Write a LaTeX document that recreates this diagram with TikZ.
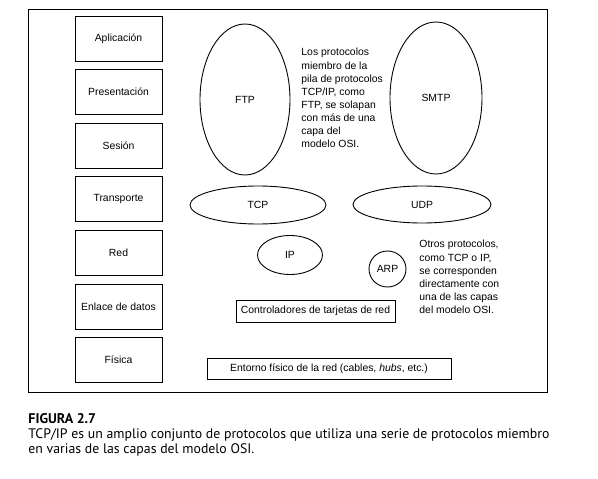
\documentclass[tikz,border=0pt]{standalone}
\usepackage{fontspec}
\setmainfont{Liberation Sans}
\newfontfamily\capfont{PT Sans}
\usetikzlibrary{shapes.geometric, positioning}

\begin{document}
\begin{tikzpicture}[x=1pt, y=-1pt, line width=0.9pt,
        layer/.style={draw, minimum width=87pt, minimum height=45pt, inner sep=0pt, font=\fontsize{10.4}{12}\selectfont},
        proto/.style={draw, ellipse, inner sep=0pt, font=\fontsize{10.4}{12}\selectfont},
        drv/.style={draw, inner sep=0pt, font=\fontsize{10.4}{12}\selectfont},
        note/.style={anchor=north west, align=left, inner sep=0pt, font=\fontsize{10.4}{13.1}\selectfont},
        figcap/.style={anchor=base west, inner sep=0pt, font=\capfont\fontsize{13.8}{15}\selectfont},
        node distance=7.7pt]
        \useasboundingbox (0,0) rectangle (598,479);
        \draw (28,9) rectangle (547,392);
        % capas del modelo OSI
        \node[layer] (apl) at (118.5,38.5) {Aplicación};
        \node[layer, below=of apl] (pres) {Presentación};
        \node[layer, below=of pres] (ses) {Sesión};
        \node[layer, below=of ses] (trans) {Transporte};
        \node[layer, below=of trans] (red) {Red};
        \node[layer, below=of red] (enl) {Enlace de datos};
        \node[layer, below=of enl] (fis) {Física};
        % protocolos
        \node[proto, minimum width=90pt, minimum height=151pt] (ftp) at (245,99.5) {FTP};
        \node[proto, minimum width=92pt, minimum height=152pt] (smtp) at (436,98) {SMTP};
        \node[proto, minimum width=136pt, minimum height=38pt] (tcp) at (258,205) {TCP};
        \node[proto, minimum width=138pt, minimum height=37pt] (udp) at (422,204.5) {UDP};
        \node[proto, minimum width=65pt, minimum height=39pt] (ip) at (290,255) {IP};
        \node[proto, minimum width=37pt, minimum height=36pt] (arp) at (387.5,269) {ARP};
        \node[drv, minimum width=159pt, minimum height=22pt] (ctrl) at (315.5,311) {Controladores de tarjetas de red};
        \node[drv, minimum width=244pt, minimum height=21pt] (ent) at (329,368.5) {Entorno físico de la red (cables, \textit{hubs}, etc.)};
        % notas
        \node[note] (nota1) at (301,48) {Los protocolos\\miembro de la\\pila de protocolos\\TCP/IP, como\\FTP, se solapan\\con más de una\\capa del\\modelo OSI.};
        \node[note] (nota2) at (419,240) {Otros protocolos,\\como TCP o IP,\\se corresponden\\directamente con\\una de las capas\\del modelo OSI.};
        % pie de figura
        \node[figcap, font=\capfont\bfseries\fontsize{14}{15}\selectfont] (fig) at (28,423) {FIGURA 2.7};
        \node[figcap] (cap1) at (28,438) {TCP/IP es un amplio conjunto de protocolos que utiliza una serie de protocolos miembro};
        \node[figcap] (cap2) at (28,453) {en varias de las capas del modelo OSI.};
\end{tikzpicture}
\end{document}
